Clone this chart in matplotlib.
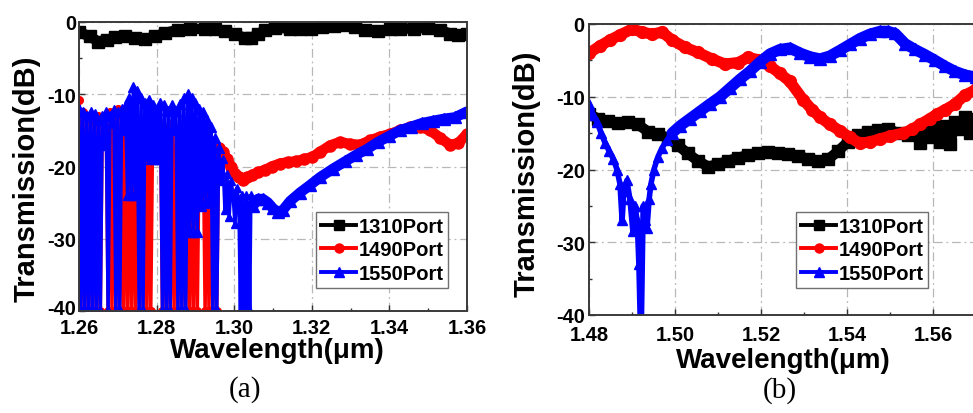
import matplotlib
matplotlib.use("Agg")
import matplotlib.pyplot as plt
from matplotlib.ticker import AutoMinorLocator, FormatStrFormatter
from matplotlib.lines import Line2D
from matplotlib.transforms import ScaledTranslation

plt.rcParams['font.family'] = ['Liberation Sans', 'DejaVu Sans']
plt.rcParams['font.weight'] = 'bold'
plt.rcParams['axes.unicode_minus'] = False

# ---------------- panel (a): O-band sweep ----------------
wl_a_1310 = [1.2600, 1.2628, 1.2649, 1.2672, 1.2693, 1.2719, 1.2744, 1.2770, 1.2796,
             1.2822, 1.2855, 1.2886, 1.2925, 1.2951, 1.2976, 1.3002, 1.3028, 1.3043,
             1.3061, 1.3079, 1.3105, 1.3144, 1.3170, 1.3198, 1.3226, 1.3257, 1.3286,
             1.3311, 1.3337, 1.3371, 1.3402, 1.3427, 1.3463, 1.3499, 1.3530, 1.3556,
             1.3577, 1.3600]
db_a_1310 = [-1.4, -2.0, -2.7, -2.5, -2.1, -2.0, -2.2, -2.4, -2.0,
             -1.5, -1.1, -0.9, -1.0, -1.0, -1.2, -1.7, -2.2, -2.2,
             -1.7, -1.1, -0.8, -0.9, -1.0, -0.9, -0.7, -0.5, -0.4,
             -0.7, -1.1, -1.3, -1.0, -0.9, -0.9, -0.8, -1.1, -1.6,
             -1.8, -1.6]

# densely sampled, strongly oscillating short-wavelength part
wl_a_osc = [1.2600, 1.2605, 1.2610, 1.2615, 1.2620, 1.2625, 1.2630, 1.2635, 1.2640, 1.2645,
            1.2650, 1.2655, 1.2660, 1.2665, 1.2670, 1.2675, 1.2680, 1.2685, 1.2690, 1.2695,
            1.2700, 1.2705, 1.2710, 1.2715, 1.2720, 1.2725, 1.2730, 1.2735, 1.2740, 1.2745,
            1.2750, 1.2755, 1.2760, 1.2765, 1.2770, 1.2775, 1.2780, 1.2785, 1.2790, 1.2795,
            1.2800, 1.2805, 1.2810, 1.2815, 1.2820, 1.2825, 1.2830, 1.2835, 1.2840, 1.2845,
            1.2850, 1.2855, 1.2860, 1.2865, 1.2870, 1.2875, 1.2880, 1.2885, 1.2890, 1.2895,
            1.2900, 1.2905, 1.2910, 1.2915, 1.2920, 1.2925, 1.2930, 1.2935, 1.2940, 1.2945,
            1.2950, 1.2955, 1.2960]
db_a_1490_osc = [-10.8, -40, -12.5, -40, -13, -40, -13.5, -40, -13, -40,
                 -13, -40, -14, -17, -13, -40, -12.5, -40, -13, -40,
                 -12, -40, -13, -40, -12.5, -40, -13.5, -40, -13, -40,
                 -14, -40, -13.5, -40, -14, -40, -14.5, -40, -14, -19,
                 -14.5, -19, -14, -40, -15, -40, -14.5, -40, -14, -40,
                 -15, -40, -14.5, -40, -14, -40, -14.5, -40, -15, -40,
                 -15, -40, -15.5, -25.5, -15.5, -40, -16, -40, -16.5, -40,
                 -17, -40, -17.5]
db_a_1550_osc = [-12, -40, -12.5, -40, -13, -40, -12.5, -40, -12.8, -40,
                 -13.5, -40, -13, -17, -12.5, -40, -13, -14, -12.2, -40,
                 -12.5, -40, -12, -15, -11.5, -24, -10.5, -24, -9.0, -24,
                 -9.5, -40, -10.5, -40, -11.2, -18.5, -10.8, -19, -11.5, -19,
                 -12.2, -19, -11.2, -40, -11.5, -40, -12.3, -40, -11.5, -15,
                 -12.3, -40, -11.3, -40, -10.5, -40, -10.0, -29, -10.5, -29,
                 -11.2, -29, -12, -25.5, -12.5, -25, -13.5, -24.5, -14.5, -40,
                 -16.0, -40, -17.5]

# noisy 1550 segment just above 1.296 um
wl_a_1550_mid = [1.2960, 1.2966, 1.2971, 1.2976, 1.2981, 1.2987, 1.2992, 1.2997, 1.3002,
                 1.3007, 1.3012, 1.3016, 1.3019, 1.3022, 1.3025, 1.3028, 1.3031, 1.3034,
                 1.3037, 1.3040, 1.3043, 1.3048]
db_a_1550_mid = [-17.5, -22, -19, -26, -21, -27, -22, -24, -28,
                 -23, -25, -40, -24, -40, -25, -40, -24, -40,
                 -25, -40, -24, -25.5]

wl_a_1490 = [1.2960, 1.2971, 1.2981, 1.2992, 1.3002, 1.3012, 1.3023, 1.3033, 1.3046,
             1.3061, 1.3079, 1.3097, 1.3118, 1.3139, 1.3159, 1.3180, 1.3201, 1.3221,
             1.3247, 1.3273, 1.3298, 1.3324, 1.3350, 1.3376, 1.3402, 1.3427, 1.3453,
             1.3479, 1.3505, 1.3530, 1.3556, 1.3577, 1.3600]
db_a_1490 = [-17.5, -18, -19, -20, -21, -21.5, -21.8, -21.5, -21.2,
             -20.8, -20.5, -20.0, -19.6, -19.4, -19.3, -19.0, -18.7, -18.0,
             -17.1, -16.6, -16.9, -17.0, -16.4, -15.9, -15.5, -15.0, -14.6,
             -14.5, -15.0, -16.0, -17.0, -16.8, -15.5]

wl_a_1550 = [1.3048, 1.3061, 1.3074, 1.3087, 1.3100, 1.3113, 1.3126, 1.3144, 1.3170,
             1.3195, 1.3221, 1.3255, 1.3286, 1.3314, 1.3342, 1.3371, 1.3399, 1.3427,
             1.3456, 1.3484, 1.3512, 1.3541, 1.3569, 1.3600]
db_a_1550 = [-25.5, -24.5, -24.5, -25, -25.8, -26.3, -26.0, -24.8, -23.6,
             -22.6, -21.5, -20.3, -19.3, -18.4, -17.6, -16.6, -15.8, -15.0,
             -14.5, -14.0, -13.7, -13.4, -13.2, -12.4]

# ---------------- panel (b): 1.48-1.57 um sweep ----------------
wl_b_1310 = [1.4800, 1.4821, 1.4844, 1.4867, 1.4891, 1.4914, 1.4937, 1.4960, 1.4984,
             1.5007, 1.5030, 1.5053, 1.5077, 1.5100, 1.5123, 1.5147, 1.5170, 1.5193,
             1.5216, 1.5240, 1.5263, 1.5286, 1.5309, 1.5333, 1.5356, 1.5379, 1.5402,
             1.5426, 1.5449, 1.5472, 1.5495, 1.5519, 1.5542, 1.5560, 1.5570, 1.5581,
             1.5593, 1.5605, 1.5616, 1.5628, 1.5640, 1.5651, 1.5663, 1.5674, 1.5686,
             1.5700]
db_b_1310 = [-12.4, -13.0, -13.4, -13.6, -13.5, -13.8, -14.8, -15.1, -15.7,
             -16.7, -17.8, -18.8, -19.6, -19.3, -18.8, -18.4, -18.0, -17.8,
             -17.6, -17.7, -17.9, -18.2, -18.5, -18.8, -18.6, -17.5, -16.2,
             -15.3, -14.9, -14.6, -14.4, -15.0, -15.3, -14.8, -16.3, -14.6,
             -15.5, -14.2, -16.2, -14.0, -16.5, -13.5, -14.5, -12.8, -15.0,
             -13.0]

wl_b_1490 = [1.4800, 1.4826, 1.4849, 1.4872, 1.4900, 1.4923, 1.4947, 1.4970, 1.4993,
             1.5023, 1.5053, 1.5086, 1.5116, 1.5147, 1.5170, 1.5193, 1.5221, 1.5244,
             1.5267, 1.5298, 1.5319, 1.5337, 1.5360, 1.5384, 1.5407, 1.5430, 1.5453,
             1.5477, 1.5500, 1.5530, 1.5551, 1.5570, 1.5593, 1.5609, 1.5628, 1.5651,
             1.5674, 1.5700]
db_b_1490 = [-4.0, -3.0, -2.2, -1.5, -0.7, -1.1, -1.4, -1.1, -2.2,
             -3.2, -3.9, -4.8, -5.5, -5.3, -4.6, -4.9, -5.8, -6.8,
             -7.9, -10.4, -11.8, -12.8, -13.8, -14.7, -15.6, -16.4, -16.2,
             -15.8, -15.4, -15.0, -14.5, -13.8, -13.0, -12.4, -11.8, -11.0,
             -9.8, -9.0]

wl_b_1550_dip = [1.4800, 1.4809, 1.4819, 1.4828, 1.4837, 1.4847, 1.4856, 1.4865, 1.4872,
                 1.4877, 1.4881, 1.4888, 1.4895, 1.4902, 1.4907, 1.4912, 1.4916, 1.4919,
                 1.4922, 1.4926, 1.4930, 1.4935, 1.4940, 1.4944, 1.4951, 1.4960, 1.4970,
                 1.4981, 1.4993]
db_b_1550_dip = [-11, -12.5, -13.5, -15, -16.3, -17.5, -18.5, -20, -22,
                 -27, -23, -21.5, -24, -28.5, -25, -27, -33, -40.5,
                 -40.5, -25, -27, -28, -24, -22, -20, -18.3, -17,
                 -16, -15]

wl_b_1550 = [1.4993, 1.5012, 1.5035, 1.5058, 1.5081, 1.5105, 1.5128, 1.5151, 1.5174,
             1.5198, 1.5221, 1.5244, 1.5267, 1.5291, 1.5314, 1.5337, 1.5360, 1.5384,
             1.5407, 1.5430, 1.5453, 1.5477, 1.5495, 1.5512, 1.5535, 1.5558, 1.5581,
             1.5605, 1.5628, 1.5651, 1.5674, 1.5700]
db_b_1550 = [-15, -14, -13, -12, -11, -10, -8.8, -7.6, -6.5,
             -5.2, -4.1, -3.5, -3.3, -4.0, -4.5, -4.8, -4.4, -3.6,
             -2.8, -2.0, -1.4, -1.0, -1.0, -1.3, -2.7, -3.5, -4.2,
             -5.0, -5.8, -6.5, -7.0, -7.3]

ticks_a = [1.26, 1.28, 1.30, 1.32, 1.34, 1.36]
ticks_b = [1.48, 1.50, 1.52, 1.54, 1.56]
ticks_y = [0, -10, -20, -30, -40]
port_labels = ['1310Port', '1490Port', '1550Port']

W, H = 973, 414
fig = plt.figure(figsize=(W / 100, H / 100), dpi=100)


def rect(l, t, r, b):
    return [l / W, 1 - b / H, (r - l) / W, (b - t) / H]


axa = fig.add_axes(rect(79, 23, 467, 312))
axb = fig.add_axes(rect(589, 25, 976, 316))


def style(ax, xlim, xticks, padx, pady):
    ax.set_xlim(*xlim)
    ax.set_ylim(-40, 0)
    ax.set_xticks(xticks)
    ax.set_yticks(ticks_y)
    ax.xaxis.set_major_formatter(FormatStrFormatter('%.2f'))
    ax.yaxis.set_major_formatter(FormatStrFormatter('%d'))
    ax.xaxis.set_minor_locator(AutoMinorLocator(2))
    ax.yaxis.set_minor_locator(AutoMinorLocator(2))
    ax.tick_params(which='both', direction='in', top=False, right=False,
                   labelsize=14.5, color='#333333')
    ax.tick_params(which='major', length=4, width=1)
    ax.tick_params(which='minor', length=2.5, width=1)
    ax.tick_params(axis='x', pad=padx)
    ax.tick_params(axis='y', pad=pady)
    ax.grid(True, which='major', color='#b8b8b8', lw=0.9,
            linestyle=(0, (7, 3, 1.5, 3)))
    ax.set_axisbelow(True)
    for s in ax.spines.values():
        s.set_color('#3a3a3a')
        s.set_linewidth(1.4)


style(axa, (1.26, 1.36), ticks_a, 5, 2)
style(axb, (1.48, 1.57), ticks_b, 7, 3)

band = dict(solid_joinstyle='round', solid_capstyle='round')

# panel (a)
axa.plot(wl_a_1310, db_a_1310, color='black', lw=7.5, marker='s', ms=8, **band)
axa.plot(wl_a_osc, db_a_1490_osc, color='red', lw=2.5, marker='o', ms=5.5)
axa.plot(wl_a_1490, db_a_1490, color='red', lw=7.5, marker='o', ms=8, **band)
axa.plot(wl_a_osc, db_a_1550_osc, color='blue', lw=2.5, marker='^', ms=6.5)
axa.plot(wl_a_1550_mid, db_a_1550_mid, color='blue', lw=2.5, marker='^', ms=6)
axa.plot(wl_a_1550, db_a_1550, color='blue', lw=7.5, marker='^', ms=8.5, **band)

# panel (b)
axb.plot(wl_b_1310, db_b_1310, color='black', lw=7.5, marker='s', ms=8, **band)
axb.plot(wl_b_1490, db_b_1490, color='red', lw=8, marker='o', ms=8.5, **band)
axb.plot(wl_b_1550_dip, db_b_1550_dip, color='blue', lw=4, marker='^', ms=7, **band)
axb.plot(wl_b_1550, db_b_1550, color='blue', lw=8, marker='^', ms=9, **band)

handles = [Line2D([], [], color='black', lw=2.8, marker='s', ms=6.5),
           Line2D([], [], color='red', lw=2.8, marker='o', ms=6.5),
           Line2D([], [], color='blue', lw=2.8, marker='^', ms=7.5)]

for ax, (lx, ly) in ((axa, (316, 213)), (axb, (796, 213))):
    leg = ax.legend(handles, port_labels, loc='upper left',
                    bbox_to_anchor=(lx / W, 1 - ly / H), bbox_transform=fig.transFigure,
                    borderaxespad=0, fontsize=14.5, handlelength=1.75, handletextpad=0.1,
                    borderpad=0.25, labelspacing=0.22, fancybox=False, framealpha=1,
                    edgecolor='#707070')
    leg.get_frame().set_linewidth(1.0)

# axis titles and panel tags
fig.text(27 / W, 1 - 179 / H, 'Transmission(dB)', rotation=90, ha='center', va='center',
         fontsize=21, fontweight='bold')
fig.text(527 / W, 1 - 174 / H, 'Transmission(dB)', rotation=90, ha='center', va='center',
         fontsize=21, fontweight='bold')
fig.text(277 / W, 1 - 351 / H, 'Wavelength(\u03bcm)', ha='center', va='center',
         fontsize=20, fontweight='bold')
fig.text(783 / W, 1 - 361 / H, 'Wavelength(\u03bcm)', ha='center', va='center',
         fontsize=20, fontweight='bold')
fig.text(245 / W, 1 - 390 / H, '(a)', ha='center', va='center', fontsize=21,
         fontweight='normal', family=['Liberation Serif', 'DejaVu Serif'])
fig.text(780 / W, 1 - 391 / H, '(b)', ha='center', va='center', fontsize=21,
         fontweight='normal', family=['Liberation Serif', 'DejaVu Serif'])

# lift the lowest y label of panel (a) a little so it clears "1.26"
fig.canvas.draw()
for lab in axa.get_yticklabels():
    if lab.get_text() == '-40':
        lab.set_transform(lab.get_transform()
                          + ScaledTranslation(0, 4 / 100, fig.dpi_scale_trans))

fig.savefig('out.png', dpi=100)
